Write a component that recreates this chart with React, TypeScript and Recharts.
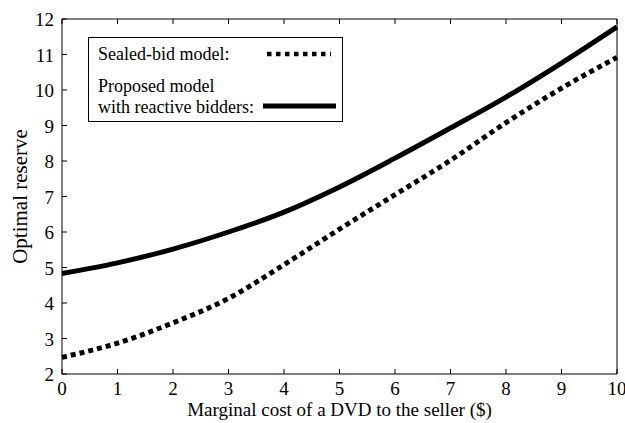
import { ComposedChart, Label, Line, XAxis, YAxis } from "recharts";

const costs = [0, 1, 2, 3, 4, 5, 6, 7, 8, 9, 10];
const sealedBid = [2.47, 2.87, 3.44, 4.13, 5.08, 6.08, 7.05, 8.02, 9.08, 10.05, 10.92];
const reactive = [4.83, 5.13, 5.52, 6.0, 6.56, 7.27, 8.08, 8.93, 9.8, 10.76, 11.78];
const xTicks = [0, 1, 2, 3, 4, 5, 6, 7, 8, 9, 10];
const yTicks = [2, 3, 4, 5, 6, 7, 8, 9, 10, 11, 12];

const data = costs.map((cost, i) => ({
  cost,
  sealed: sealedBid[i],
  reactive: reactive[i]
}));

const fontFamily = "Liberation Serif";
const tickSize = 5;

function BottomTick({ x, y, payload }: any) {
  return (
    <g>
      <line x1={x} y1={y} x2={x} y2={y - tickSize} stroke="#000" />
      <text x={x} y={y + 21} textAnchor="middle" style={{ fontSize: 19, fontFamily }} fill="#000">
        {payload.value}
      </text>
    </g>
  );
}

function LeftTick({ x, y, payload }: any) {
  return (
    <g>
      <line x1={x} y1={y} x2={x + tickSize} y2={y} stroke="#000" />
      <text x={x - 8} y={y + 7} textAnchor="end" style={{ fontSize: 19, fontFamily }} fill="#000">
        {payload.value}
      </text>
    </g>
  );
}

function TopTick({ x, y }: any) {
  return <line x1={x} y1={y} x2={x} y2={y + tickSize} stroke="#000" />;
}

function RightTick({ x, y }: any) {
  return <line x1={x} y1={y} x2={x - tickSize} y2={y} stroke="#000" />;
}

function LegendBox() {
  const textStyle = { fontSize: 18, fontFamily };
  return (
    <svg
      width={255}
      height={85}
      style={{ position: "absolute", left: 88, top: 37 }}
    >
      <rect x={0.5} y={0.5} width={254} height={84} fill="#fff" stroke="#000" />
      <text x={10} y={23} style={textStyle} fill="#000">Sealed-bid model:</text>
      <text x={10} y={55} style={textStyle} fill="#000">Proposed model</text>
      <text x={10} y={76} style={textStyle} fill="#000">with reactive bidders:</text>
      <line x1={179} y1={17} x2={243} y2={17} stroke="#000" strokeWidth={4.5} strokeDasharray="4.5 4.5" />
      <line x1={175} y1={69} x2={248} y2={69} stroke="#000" strokeWidth={5} />
    </svg>
  );
}

export default function App() {
  return (
    <div style={{ position: "absolute", left: 0, top: 0, width: 625, height: 423 }}>
      <ComposedChart
        width={625}
        height={423}
        data={data}
        margin={{ top: 0, right: 0, bottom: 0, left: 0 }}
      >
        <XAxis
          dataKey="cost"
          type="number"
          domain={[0, 10]}
          ticks={xTicks}
          height={49}
          tickSize={0}
          tickMargin={0}
          tickLine={false}
          axisLine={{ stroke: "#000" }}
          tick={<BottomTick />}
          interval={0}
        >
          <Label
            value="Marginal cost of a DVD to the seller ($)"
            position="center"
            dy={11}
            style={{ fontSize: 19, fontFamily, fill: "#000" }}
          />
        </XAxis>
        <XAxis
          xAxisId="top"
          orientation="top"
          dataKey="cost"
          type="number"
          domain={[0, 10]}
          ticks={xTicks}
          height={19}
          tickSize={0}
          tickMargin={0}
          tickLine={false}
          axisLine={{ stroke: "#000" }}
          tick={<TopTick />}
          interval={0}
        />
        <YAxis
          type="number"
          domain={[2, 12]}
          ticks={yTicks}
          width={62}
          tickSize={0}
          tickMargin={0}
          tickLine={false}
          axisLine={{ stroke: "#000" }}
          tick={<LeftTick />}
          interval={0}
        >
          <Label
            value="Optimal reserve"
            position="center"
            angle={-90}
            dx={-11}
            style={{ fontSize: 21, fontFamily, fill: "#000" }}
          />
        </YAxis>
        <YAxis
          yAxisId="right"
          orientation="right"
          type="number"
          domain={[2, 12]}
          ticks={yTicks}
          width={8}
          tickSize={0}
          tickMargin={0}
          tickLine={false}
          axisLine={{ stroke: "#000" }}
          tick={<RightTick />}
          interval={0}
        />
        <Line
          dataKey="sealed"
          type="monotone"
          stroke="#000"
          strokeWidth={5}
          strokeDasharray="5 4"
          dot={false}
          isAnimationActive={false}
        />
        <Line
          dataKey="reactive"
          type="monotone"
          stroke="#000"
          strokeWidth={5}
          dot={false}
          isAnimationActive={false}
        />
      </ComposedChart>
      <LegendBox />
    </div>
  );
}
